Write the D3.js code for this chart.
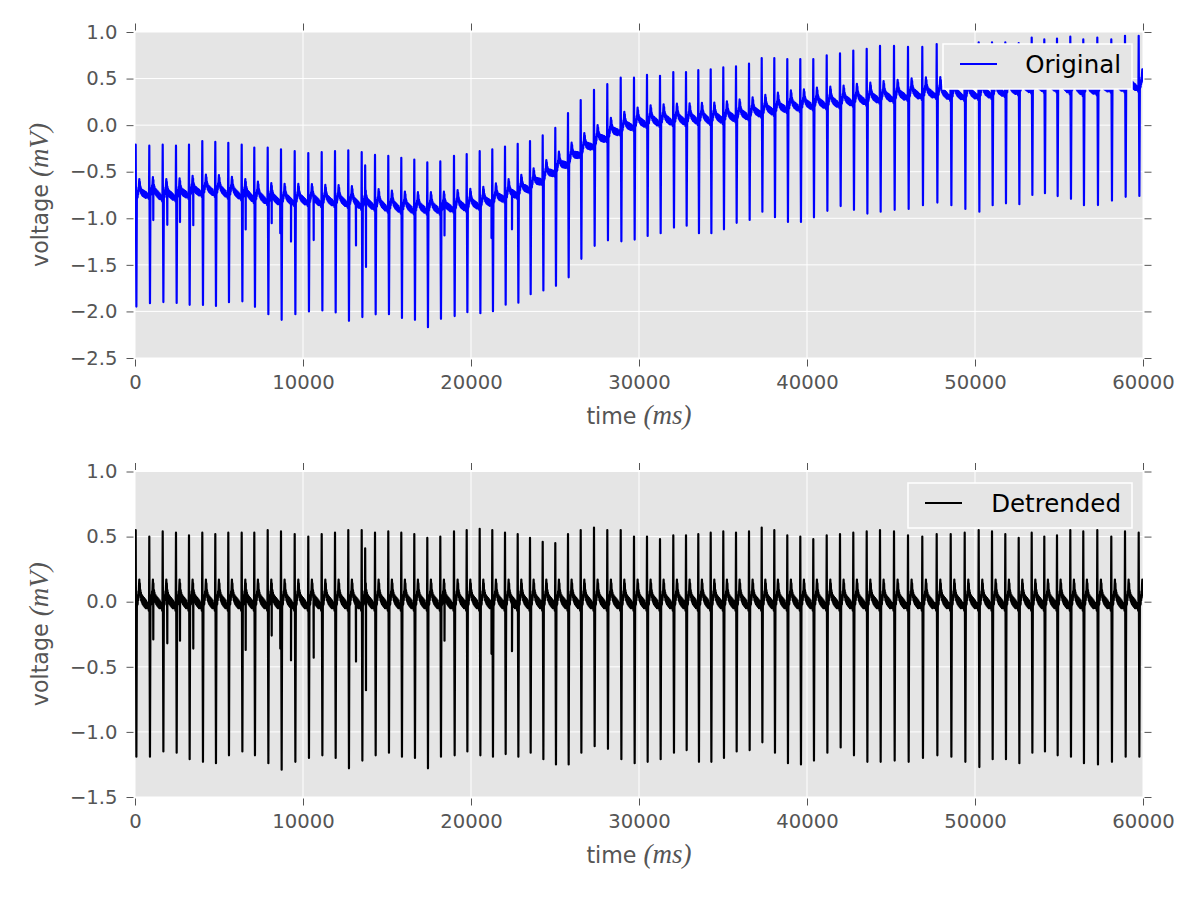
<html>
<head>
<meta charset="utf-8">
<style>
  body { margin: 0; background: #fff; }
  svg text { font-family: "DejaVu Sans", sans-serif; }
  .tick text { fill: #555; font-size: 19.6px; }
  .tick line { stroke: #555; }
  .grid line { stroke: #fff; stroke-width: 1; }
  .math { font-family: "Liberation Serif", serif; font-style: italic; font-size: 27px; }
</style>
</head>
<body>
<svg id="chart" width="1200" height="900"></svg>
<script src="https://cdn.jsdelivr.net/npm/d3@7"></script>
<script>
// R-peak times (ms)
const beatTimes = [42, 851, 1649, 2440, 3214, 4006, 4780, 5554, 6351, 7101,
  7899, 8690, 9506, 10315, 11113, 11905, 12696, 13494, 14286, 15077,
  15851, 16625, 17399, 18173, 18988, 19744, 20518, 21268, 22024, 22780,
  23512, 24268, 25018, 25774, 26530, 27321, 28113, 28911, 29702, 30476,
  31250, 32042, 32798, 33530, 34268, 35018, 35774, 36548, 37304, 38054,
  38827, 39601, 40375, 41173, 41964, 42756, 43554, 44345, 45179, 46012,
  46863, 47720, 48554, 49387, 50220, 51012, 51804, 52601, 53375, 54125,
  54881, 55673, 56446, 57280, 58113, 58929, 59744]

// detrended R peak and S trough per beat (mV)
const rPeak = [0.55, 0.50, 0.54, 0.53, 0.51, 0.53, 0.52, 0.53, 0.53, 0.53,
  0.55, 0.54, 0.52, 0.50, 0.52, 0.53, 0.55, 0.55, 0.53, 0.54,
  0.53, 0.52, 0.49, 0.50, 0.54, 0.55, 0.56, 0.55, 0.53, 0.52,
  0.49, 0.46, 0.45, 0.52, 0.55, 0.57, 0.55, 0.55, 0.50, 0.50,
  0.48, 0.51, 0.51, 0.52, 0.53, 0.54, 0.53, 0.54, 0.57, 0.55,
  0.51, 0.50, 0.48, 0.51, 0.52, 0.53, 0.54, 0.55, 0.54, 0.51,
  0.50, 0.52, 0.52, 0.53, 0.55, 0.54, 0.52, 0.49, 0.53, 0.50,
  0.51, 0.55, 0.54, 0.55, 0.50, 0.54, 0.53]
const sTrough = [-1.19, -1.19, -1.15, -1.16, -1.21, -1.23, -1.24, -1.18, -1.15, -1.18,
  -1.24, -1.29, -1.23, -1.20, -1.18, -1.20, -1.28, -1.22, -1.18, -1.16,
  -1.19, -1.20, -1.28, -1.19, -1.18, -1.15, -1.18, -1.19, -1.17, -1.19,
  -1.16, -1.21, -1.25, -1.25, -1.16, -1.11, -1.13, -1.21, -1.24, -1.23,
  -1.21, -1.16, -1.14, -1.23, -1.23, -1.20, -1.15, -1.14, -1.08, -1.16,
  -1.24, -1.25, -1.22, -1.16, -1.12, -1.18, -1.23, -1.23, -1.22, -1.23,
  -1.20, -1.18, -1.19, -1.23, -1.27, -1.21, -1.21, -1.24, -1.16, -1.15,
  -1.18, -1.19, -1.24, -1.25, -1.23, -1.19, -1.19]

// baseline wander at each beat (original minus detrended)
const trend = [-0.76, -0.72, -0.75, -0.75, -0.72, -0.70, -0.70, -0.72, -0.74, -0.77,
  -0.79, -0.80, -0.80, -0.80, -0.81, -0.81, -0.82, -0.84, -0.85, -0.87,
  -0.88, -0.89, -0.89, -0.89, -0.87, -0.86, -0.84, -0.81, -0.76, -0.72,
  -0.66, -0.57, -0.48, -0.39, -0.28, -0.19, -0.11, -0.04, 0.01, 0.04,
  0.05, 0.06, 0.06, 0.07, 0.07, 0.08, 0.10, 0.12, 0.15, 0.17,
  0.20, 0.21, 0.23, 0.24, 0.25, 0.27, 0.28, 0.30, 0.31, 0.33,
  0.34, 0.35, 0.33, 0.33, 0.34, 0.35, 0.37, 0.39, 0.41, 0.42,
  0.42, 0.40, 0.38, 0.39, 0.42, 0.42, 0.43]

// extra (ectopic) spikes, detrended values
const ectoTimes = [1089, 1923, 2679, 3470, 6589, 8137, 8649, 9286, 10637, 13155, 13700, 13750, 18423, 21220, 22440]
const ectoVals = [-0.29, -0.32, -0.30, -0.36, -0.37, -0.26, -0.36, -0.45, -0.43, -0.46, 0.41, -0.68, -0.30, -0.40, -0.38]

// shape of one beat around its R peak: [offset ms, level mV]; "R"/"S" use the per-beat values
const beatShape = [[-130, -0.01], [-110, -0.05], [-90, -0.02], [-70, -0.05], [-50, -0.01],
  [-30, -0.07], [-15, -0.02],
  [0, "R"], [40, "S"], [70, 0.03], [85, -0.03], [100, 0.02], [115, -0.02], [130, 0.05],
  [145, 0.01], [165, 0.08], [180, 0.05], [200, 0.13], [215, 0.17], [230, 0.10],
  [245, 0.14], [260, 0.06], [280, 0.09], [295, 0.03], [310, 0.07], [325, 0.01],
  [340, 0.05], [355, 0.0], [370, 0.05], [385, -0.01], [400, 0.04], [415, -0.02],
  [430, 0.04], [445, -0.02], [460, 0.03], [475, -0.03], [490, 0.03], [505, -0.03],
  [520, 0.02], [535, -0.04], [550, 0.02], [565, -0.04], [580, 0.01], [595, -0.05],
  [610, 0.01], [625, -0.05], [640, 0.0]]

const xTicks = [0, 10000, 20000, 30000, 40000, 50000, 60000]
const yTicksTop = [-2.5, -2.0, -1.5, -1.0, -0.5, 0.0, 0.5, 1.0]
const yTicksBottom = [-1.5, -1.0, -0.5, 0.0, 0.5, 1.0]

let svg = d3.select("#chart")

let trendAt = d3.scaleLinear().domain(beatTimes).range(trend).clamp(true)

function buildSignal(addTrend) {
  let pts = []
  beatTimes.forEach((t, i) => {
    let next = i < beatTimes.length - 1 ? beatTimes[i + 1] : Infinity
    beatShape.forEach(([dt, v]) => {
      let tt = t + dt
      if (dt > 0 && tt > next - 135) return
      let val = v === "R" ? rPeak[i] : v === "S" ? sTrough[i] : v
      pts.push([tt, val])
    })
  })
  ectoTimes.forEach((t, i) => {
    pts.push([t - 12, 0.0], [t, ectoVals[i]], [t + 12, 0.0])
  })
  pts.sort((a, b) => a[0] - b[0])
  if (addTrend) pts = pts.map(p => [p[0], p[1] + trendAt(p[0])])
  return pts
}

function drawPanel(cfg) {
  let x = d3.scaleLinear().domain([0, 60000]).range([135, 1143])
  let y = d3.scaleLinear().domain(cfg.yDomain).range([cfg.bottom, cfg.top])
  let g = svg.append("g")

  g.append("rect")
    .attr("x", 135).attr("y", cfg.top)
    .attr("width", 1008).attr("height", cfg.bottom - cfg.top)
    .attr("fill", "#e5e5e5")

  // grid
  let grid = g.append("g").attr("class", "grid")
  grid.selectAll(".gx").data(xTicks).enter().append("line")
    .attr("x1", d => x(d)).attr("x2", d => x(d))
    .attr("y1", cfg.top).attr("y2", cfg.bottom)
  grid.selectAll(".gy").data(cfg.yTicks).enter().append("line")
    .attr("x1", 135).attr("x2", 1143)
    .attr("y1", d => y(d)).attr("y2", d => y(d))

  // axes on all four sides, ticks outward
  let fx = d3.format("d")
  let fy = d3.format(".1f")
  let axes = [
    [d3.axisBottom(x).tickValues(xTicks).tickFormat(fx), `translate(0,${cfg.bottom + 1.5})`],
    [d3.axisTop(x).tickValues(xTicks).tickFormat(""), `translate(0,${cfg.top - 1.5})`],
    [d3.axisLeft(y).tickValues(cfg.yTicks).tickFormat(fy), `translate(133.5,0)`],
    [d3.axisRight(y).tickValues(cfg.yTicks).tickFormat(""), `translate(1144.5,0)`]
  ]
  axes.forEach(([ax, tr]) => {
    let a = g.append("g").attr("transform", tr)
      .call(ax.tickSizeInner(7).tickSizeOuter(0).tickPadding(9))
    a.select(".domain").remove()
    a.selectAll("text").attr("font-family", null).attr("font-size", null)
  })

  // signal
  let clipId = "clip" + Math.round(cfg.top)
  g.append("clipPath").attr("id", clipId).append("rect")
    .attr("x", 135).attr("y", cfg.top).attr("width", 1008).attr("height", cfg.bottom - cfg.top)
  let line = d3.line().x(d => x(d[0])).y(d => y(d[1]))
  g.append("path")
    .datum(cfg.data)
    .attr("clip-path", `url(#${clipId})`)
    .attr("fill", "none")
    .attr("stroke", cfg.color)
    .attr("stroke-width", 2.2)
    .attr("stroke-linejoin", "round")
    .attr("d", line)

  // legend
  let lg = g.append("g")
  lg.append("rect")
    .attr("x", cfg.legend.x).attr("y", cfg.legend.y)
    .attr("width", 1132 - cfg.legend.x).attr("height", 45)
    .attr("fill", "#e5e5e5").attr("stroke", "#fff").attr("stroke-width", 1.5)
  lg.append("line")
    .attr("x1", cfg.legend.x + 17).attr("x2", cfg.legend.x + 54)
    .attr("y1", cfg.legend.y + 20).attr("y2", cfg.legend.y + 20)
    .attr("stroke", cfg.color).attr("stroke-width", 2)
  lg.append("text")
    .attr("x", 1121).attr("y", cfg.legend.y + 29)
    .attr("text-anchor", "end")
    .attr("font-size", 24.5).attr("fill", "#000")
    .text(cfg.label)

  // axis labels
  let xl = g.append("text")
    .attr("x", 639).attr("y", cfg.bottom + 66)
    .attr("text-anchor", "middle")
    .attr("font-size", 22.2).attr("fill", "#555")
  xl.append("tspan").text("time ")
  xl.append("tspan").attr("class", "math").attr("font-style", "normal").text("(")
  xl.append("tspan").attr("class", "math").text("ms")
  xl.append("tspan").attr("class", "math").attr("font-style", "normal").text(")")

  let yl = g.append("text")
    .attr("transform", `translate(48,${(cfg.top + cfg.bottom) / 2}) rotate(-90)`)
    .attr("text-anchor", "middle")
    .attr("font-size", 22.2).attr("fill", "#555")
  yl.append("tspan").text("voltage ")
  yl.append("tspan").attr("class", "math").attr("font-style", "normal").text("(")
  yl.append("tspan").attr("class", "math").text("mV")
  yl.append("tspan").attr("class", "math").attr("font-style", "normal").text(")")
}

drawPanel({
  top: 32, bottom: 358, yDomain: [-2.5, 1.0], yTicks: yTicksTop,
  data: buildSignal(true), color: "#0000ff", label: "Original",
  legend: { x: 943, y: 44 }
})

drawPanel({
  top: 471.5, bottom: 797, yDomain: [-1.5, 1.0], yTicks: yTicksBottom,
  data: buildSignal(false), color: "#000000", label: "Detrended",
  legend: { x: 908, y: 483 }
})
</script>
</body>
</html>
